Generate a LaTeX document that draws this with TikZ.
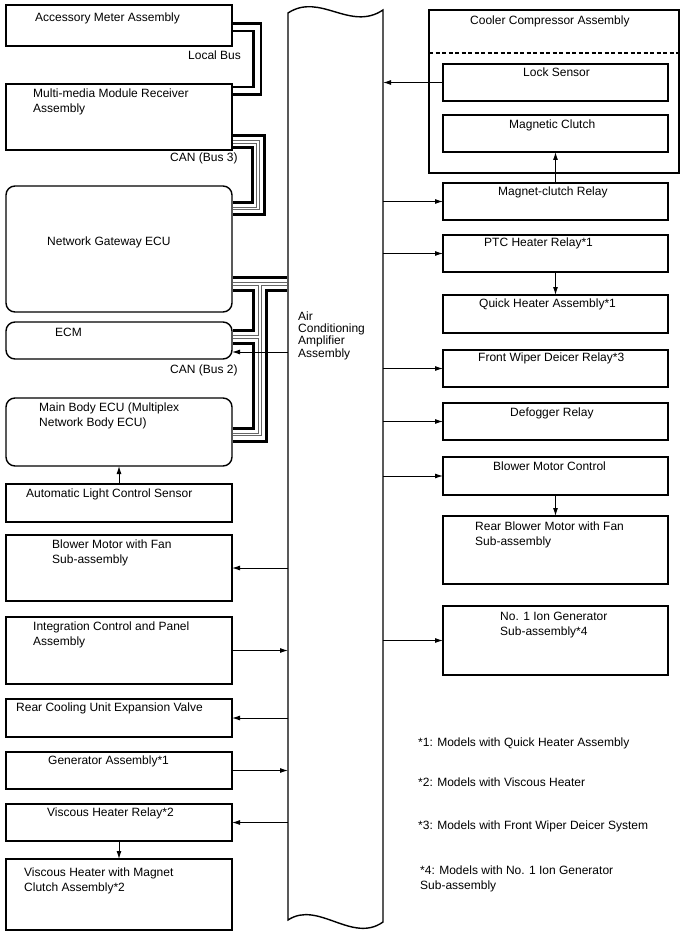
\documentclass[tikz,border=0pt]{standalone}
\usepackage{fontspec}
\setmainfont{Liberation Sans}
\usetikzlibrary{arrows.meta}
\begin{document}
\begin{tikzpicture}[x=1pt,y=-1pt,
  box/.style={draw,line width=1.4pt,anchor=north west,outer sep=0pt,inner sep=0pt},
  rbox/.style={box,rounded corners=9pt},
  lbl/.style={anchor=base west,inner sep=0pt,font=\fontsize{12}{15}\selectfont},
  mlbl/.style={anchor=north west,inner sep=0pt,align=left,font=\fontsize{12}{15}\selectfont},
  arr/.style={line width=1pt,-{Latex[length=8pt,width=5pt]}},
]
\useasboundingbox (0,0) rectangle (688,949);
\fill[white] (0,0) rectangle (688,949);

% ---------- left boxes ----------
\node[box,minimum width=226pt,minimum height=41pt] (accB) at (6,5) {};
\node[box,minimum width=226pt,minimum height=66pt] (mmB) at (6,84) {};
\node[rbox,minimum width=226pt,minimum height=126pt] (gwB) at (6,186) {};
\node[rbox,minimum width=226pt,minimum height=37pt] (ecmB) at (6,322) {};
\node[rbox,minimum width=226pt,minimum height=68pt] (mbB) at (6,398) {};
\node[box,minimum width=226pt,minimum height=38pt] (alsB) at (6,484) {};
\node[box,minimum width=226pt,minimum height=66pt] (bmB) at (6,535) {};
\node[box,minimum width=226pt,minimum height=67pt] (icpB) at (6,617) {};
\node[box,minimum width=226pt,minimum height=38pt] (rcuB) at (6,699) {};
\node[box,minimum width=226pt,minimum height=37pt] (genB) at (6,752) {};
\node[box,minimum width=226pt,minimum height=37pt] (vhrB) at (6,804) {};
\node[box,minimum width=226pt,minimum height=71pt] (vhB) at (6,859) {};

% ---------- right boxes ----------
\node[box,minimum width=250pt,minimum height=163pt] (coolB) at (429,10) {};
\draw[line width=1.4pt,dash pattern=on 4pt off 2.5pt] (coolB.west |- 0,53) -- (coolB.east |- 0,53);
\node[box,minimum width=225pt,minimum height=37pt] (lockB) at (443,64) {};
\node[box,minimum width=225pt,minimum height=37pt] (mcB) at (443,115) {};
\node[box,minimum width=225pt,minimum height=37pt] (mcrB) at (443,183) {};
\node[box,minimum width=225pt,minimum height=37pt] (ptcB) at (443,235) {};
\node[box,minimum width=225pt,minimum height=38pt] (qhB) at (443,295) {};
\node[box,minimum width=225pt,minimum height=37pt] (fwdB) at (443,350) {};
\node[box,minimum width=225pt,minimum height=37pt] (defB) at (443,403) {};
\node[box,minimum width=225pt,minimum height=38pt] (bmcB) at (443,457) {};
\node[box,minimum width=225pt,minimum height=68pt] (rbmB) at (443,516) {};
\node[box,minimum width=225pt,minimum height=69pt] (ionB) at (443,606) {};

% ---------- labels ----------
\node[lbl] (accT) at (35,22) {Accessory Meter Assembly};
\node[lbl] (lbT) at (188,60) {Local Bus};
\node[mlbl] (mmT) at (33,88.5) {Multi-media Module Receiver\\Assembly};
\node[lbl] (can3T) at (170,162) {CAN (Bus 3)};
\node[lbl] (gwT) at (47,246) {Network Gateway ECU};
\node[lbl] (ecmT) at (55,336) {ECM};
\node[lbl] (can2T) at (170,373) {CAN (Bus 2)};
\node[mlbl] (mbT) at (39,402.5) {Main Body ECU (Multiplex\\Network Body ECU)};
\node[lbl] (alsT) at (26,497) {Automatic Light Control Sensor};
\node[mlbl] (bmT) at (52,539.5) {Blower Motor with Fan\\Sub-assembly};
\node[mlbl] (icpT) at (33,621.5) {Integration Control and Panel\\Assembly};
\node[lbl] (rcuT) at (16,711) {Rear Cooling Unit Expansion Valve};
\node[lbl] (genT) at (48,764) {Generator Assembly*1};
\node[lbl] (vhrT) at (47,816) {Viscous Heater Relay*2};
\node[mlbl] (vhT) at (24,867.5) {Viscous Heater with Magnet\\Clutch Assembly*2};

\node[lbl] (coolT) at (470,24.5) {Cooler Compressor Assembly};
\node[lbl] (lockT) at (523,76.5) {Lock Sensor};
\node[lbl] (mcT) at (509,128.5) {Magnetic Clutch};
\node[lbl] (mcrT) at (498,196) {Magnet-clutch Relay};
\node[lbl] (ptcT) at (484,247) {PTC Heater Relay*1};
\node[lbl] (qhT) at (479,307) {Quick Heater Assembly*1};
\node[lbl] (fwdT) at (478,361) {Front Wiper Deicer Relay*3};
\node[lbl] (defT) at (510,416) {Defogger Relay};
\node[lbl] (bmcT) at (493,470) {Blower Motor Control};
\node[mlbl] (rbmT) at (475,521.5) {Rear Blower Motor with Fan\\Sub-assembly};
\node[mlbl] (ionT) at (500,611.5) {No. 1 Ion Generator\\Sub-assembly*4};

\node[lbl] (fn1) at (418,746) {*1: Models with Quick Heater Assembly};
\node[lbl] (fn2) at (418,786) {*2: Models with Viscous Heater};
\node[lbl] (fn3) at (418,829) {*3: Models with Front Wiper Deicer System};
\node[mlbl] (fn4) at (420,865.5) {*4: Models with No. 1 Ion Generator\\Sub-assembly};

% ---------- buses ----------
\foreach \w/\c in {10/black,5/white}
  \draw[line width=\w pt,draw=\c,line join=miter] (232.7,27.5) -- (257,27.5) -- (257,91) -- (232.7,91);
\foreach \w/\c in {15/black,9/white,3.6/black!60,1.2/white}
  \draw[line width=\w pt,draw=\c,line join=miter] (232.7,142) -- (258,142) -- (258,208.5) -- (232.7,208.5);
\foreach \w/\c in {16/black,10/white,3.6/black!60,1.2/white}
  \draw[line width=\w pt,draw=\c,line join=miter]
    (232.7,284) -- (287.3,284)
    (260,284) -- (260,434.5) -- (232.7,434.5)
    (260,337) -- (232.7,337);

% ---------- central column ----------
\coordinate (colL) at (288,0);
\coordinate (colR) at (383,0);
\draw[line width=1.4pt] (288,13) .. controls (320,-8) and (350,32) .. (383,10)
  -- (383,922) .. controls (352,944) and (318,900) .. (288,920) -- cycle;
\node[anchor=north west,inner sep=0pt,align=left,font=\fontsize{12}{12.3}\selectfont] (colT) at (298,311.5)
  {Air\\Conditioning\\Amplifier\\Assembly};

% ---------- arrows ----------
\coordinate (ecmY) at (0,352);
\draw[arr] (colL |- ecmY) -- (ecmB.east |- ecmY);
\draw[arr] (colL |- bmB.east) -- (bmB.east);
\draw[arr] (icpB.east) -- (colL |- icpB.east);
\draw[arr] (colL |- rcuB.east) -- (rcuB.east);
\draw[arr] (genB.east) -- (colL |- genB.east);
\draw[arr] (colL |- vhrB.east) -- (vhrB.east);
\draw[arr] (alsB.north) -- (mbB.south);
\draw[arr] (vhrB.south) -- (vhB.north);

\draw[arr] (lockB.west) -- (colR |- lockB.west);
\draw[arr] (colR |- mcrB.west) -- (mcrB.west);
\draw[arr] (colR |- ptcB.west) -- (ptcB.west);
\draw[arr] (colR |- fwdB.west) -- (fwdB.west);
\draw[arr] (colR |- defB.west) -- (defB.west);
\draw[arr] (colR |- bmcB.west) -- (bmcB.west);
\draw[arr] (colR |- ionB.west) -- (ionB.west);
\draw[arr] (mcrB.north) -- (mcB.south);
\draw[arr] (ptcB.south) -- (qhB.north);
\draw[arr] (bmcB.south) -- (rbmB.north);
\end{tikzpicture}
\end{document}
